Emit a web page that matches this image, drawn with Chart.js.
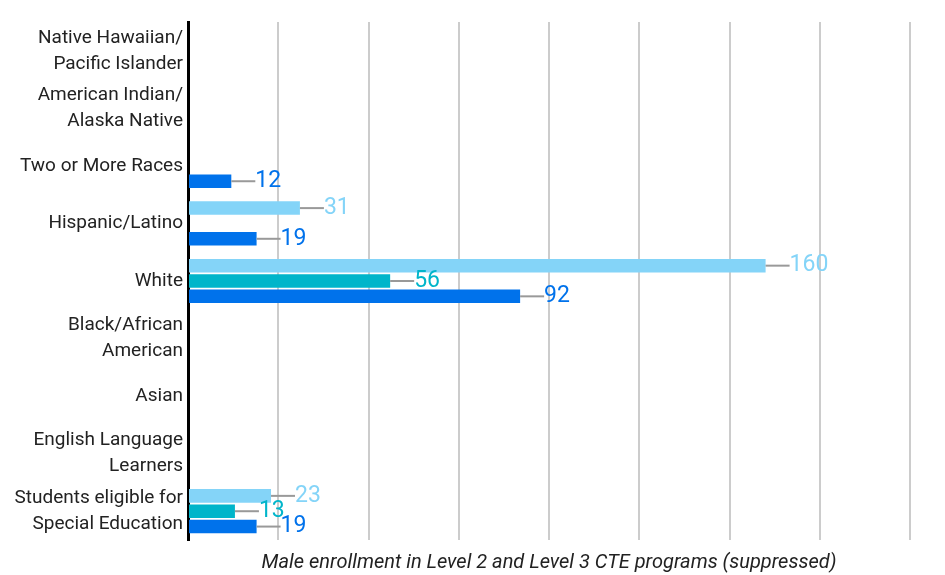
<!DOCTYPE html>
<html>
<head>
<meta charset="utf-8">
<script src="https://cdn.jsdelivr.net/npm/chart.js@4/dist/chart.umd.min.js"></script>
<style>
  html, body { margin: 0; padding: 0; background: #fff; }
  #wrap { width: 945px; height: 575px; }
</style>
</head>
<body>
<div id="wrap"><canvas id="enrollChart" width="945" height="575"></canvas></div>
<script>
// categories, top to bottom
const categories = [
  ['Native Hawaiian/', 'Pacific Islander'],
  ['American Indian/', 'Alaska Native'],
  'Two or More Races',
  'Hispanic/Latino',
  'White',
  ['Black/African', 'American'],
  'Asian',
  ['English Language', 'Learners'],
  ['Students eligible for', 'Special Education']
];

// three series (no legend in the source), null = suppressed
const seriesA = [null, null, null, 31, 160, null, null, null, 23];
const seriesB = [null, null, null, null, 56, null, null, null, 13];
const seriesC = [null, null, 12, 19, 92, null, null, null, 19];

const xTicks = [0, 25, 50, 75, 100, 125, 150, 175, 200];

const colors = ['rgb(132, 212, 248)', 'rgb(0, 181, 202)', 'rgb(0, 114, 235)'];

// value labels with a short leader line
const leaderLabels = {
  id: 'leaderLabels',
  afterDatasetsDraw(chart) {
    const ctx = chart.ctx;
    ctx.save();
    chart.data.datasets.forEach((ds, i) => {
      const meta = chart.getDatasetMeta(i);
      meta.data.forEach((bar, j) => {
        const v = ds.data[j];
        if (v === null || v === undefined) return;
        ctx.strokeStyle = '#999';
        ctx.lineWidth = 2;
        ctx.beginPath();
        ctx.moveTo(bar.x, bar.y);
        ctx.lineTo(bar.x + 24, bar.y);
        ctx.stroke();
        ctx.fillStyle = ds.backgroundColor;
        ctx.font = '23px Roboto';
        ctx.textAlign = 'left';
        ctx.textBaseline = 'middle';
        ctx.fillText(String(v), bar.x + 24, bar.y);
      });
    });
    ctx.restore();
  }
};

new Chart(document.getElementById('enrollChart'), {
  type: 'bar',
  data: {
    labels: categories,
    datasets: [
      { label: 'Series A', data: seriesA, backgroundColor: colors[0] },
      { label: 'Series B', data: seriesB, backgroundColor: colors[1] },
      { label: 'Series C', data: seriesC, backgroundColor: colors[2] }
    ]
  },
  options: {
    indexAxis: 'y',
    responsive: false,
    animation: false,
    layout: { padding: { top: 22, right: 35, left: 0, bottom: 0 } },
    categoryPercentage: 0.8,
    barPercentage: 0.88,
    plugins: {
      legend: { display: false },
      tooltip: { enabled: false }
    },
    scales: {
      x: {
        min: 0,
        max: 200,
        afterBuildTicks: (s) => { s.ticks = xTicks.map(v => ({ value: v })); },
        ticks: { display: false },
        grid: { color: '#cccccc', lineWidth: 2, drawTicks: false },
        border: { display: false },
        title: {
          display: true,
          text: 'Male enrollment in Level 2 and Level 3 CTE programs (suppressed)',
          font: { family: 'Roboto', size: 20, style: 'italic' },
          color: '#222',
          padding: { top: 6, bottom: 0 }
        },
        afterFit: (s) => { s.height = 35; }
      },
      y: {
        ticks: {
          font: { family: 'Roboto', size: 19, lineHeight: 1.37 },
          color: '#222',
          padding: 5
        },
        grid: { display: false, drawTicks: false },
        border: { color: '#000', width: 3 },
        afterFit: (s) => {
          s.width = 188;
          s.paddingTop = 0;
          s.paddingBottom = 0;
        }
      }
    }
  },
  plugins: [leaderLabels]
});
</script>
</body>
</html>
